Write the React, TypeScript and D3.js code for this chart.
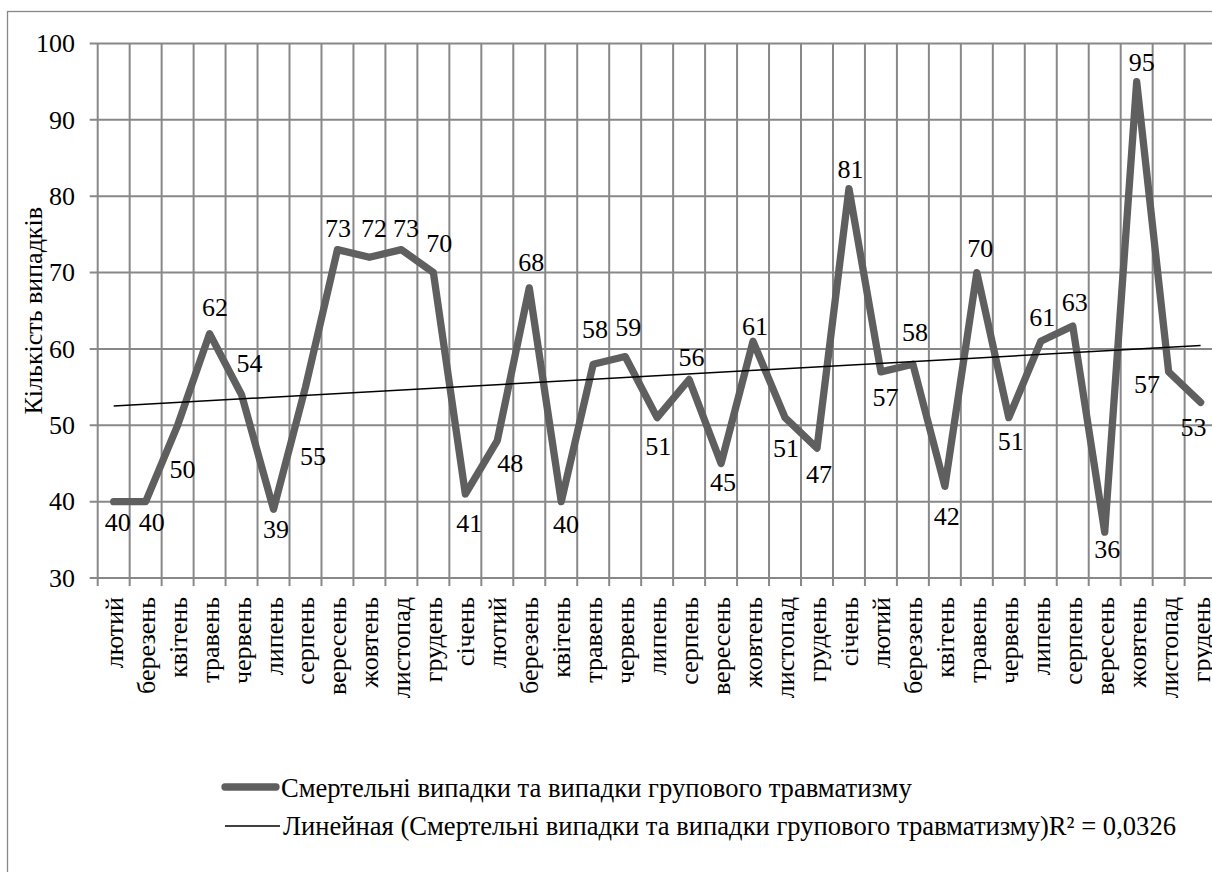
import React from "react";
import * as d3 from "d3";

// Month names along the category axis (Feb of year 1 through Dec of year 3)
const months: string[] = [
  "лютий", "березень", "квітень", "травень", "червень", "липень", "серпень", "вересень", "жовтень", "листопад", "грудень",
  "січень", "лютий", "березень", "квітень", "травень", "червень", "липень", "серпень", "вересень", "жовтень", "листопад", "грудень",
  "січень", "лютий", "березень", "квітень", "травень", "червень", "липень", "серпень", "вересень", "жовтень", "листопад", "грудень",
];

// Fatal accidents and group injury cases per month
const cases: number[] = [
  40, 40, 50, 62, 54, 39, 55, 73, 72, 73, 70,
  41, 48, 68, 40, 58, 59, 51, 56, 45, 61, 51, 47,
  81, 57, 58, 42, 70, 51, 61, 63, 36, 95, 57, 53,
];

const yTicks: number[] = [30, 40, 50, 60, 70, 80, 90, 100];

const seriesName = "Смертельні випадки та випадки групового травматизму";
const trendName = "Линейная (Смертельні випадки та випадки групового травматизму)";
const rSquaredText = "R² = 0,0326";
const yTitle = "Кількість випадків";

// Per-label nudges (px) of each value label relative to its point
const labelNudge: [number, number][] = [
  [4, 21], [6, 21], [5, 43.5], [5.5, -26], [8, -32], [2.5, 20], [7.5, 69], [0.5, -21.7], [4.5, -29], [4.5, -22], [6, -29.6],
  [3.8, 29], [13, 23], [2, -26], [4.7, 23], [1.7, -35], [3, -29], [1, 29], [2.5, -22], [2, 19], [2, -15.5], [1, 31], [2, 26],
  [1.5, -19.6], [4.5, 25.7], [2, -31.7], [2, 29.6], [3.4, -24.6], [2, 23.4], [1.5, -23.8], [2, -23.5], [2.5, 17], [5, -20], [-21.7, 12], [-7, 25],
];

const W = 1212;
const H = 872;
const plot = { left: 97.7, right: 1216.6, top: 43.5, bottom: 578 };
const FONT = '"Liberation Serif", "Times New Roman", serif';
const GRID = "#888888";
const LINE = "#5f5f5f";
const textStyle = { fontFamily: FONT, fontSize: 26 };
const legendStyle = { fontFamily: FONT, fontSize: 26.6 };

export default function App() {
  const idx = d3.range(cases.length);
  const x = d3.scaleBand<number>().domain(idx).range([plot.left, plot.right]).padding(0);
  const bw = x.bandwidth();
  const cx = (i: number) => (x(i) as number) + bw / 2;
  const y = d3.scaleLinear().domain([30, 100]).range([plot.bottom, plot.top]);

  // least-squares linear trend over category positions 1..n
  const n = cases.length;
  const xs = idx.map((i) => i + 1);
  const mx = d3.mean(xs) as number;
  const my = d3.mean(cases) as number;
  let sxy = 0;
  let sxx = 0;
  xs.forEach((xv, i) => {
    sxy += (xv - mx) * (cases[i] - my);
    sxx += (xv - mx) * (xv - mx);
  });
  const slope = sxy / sxx;
  const intercept = my - slope * mx;
  const trendAt = (k: number) => intercept + slope * k;

  const line = d3
    .line<number>()
    .x((_, i) => cx(i))
    .y((d) => y(d));

  const trendPath = d3
    .line<number>()
    .x((k) => cx(k - 1))
    .y((k) => y(trendAt(k)))([1, n]) as string;

  const boundaries = d3.range(n + 1).map((i) => plot.left + i * bw);

  return (
    <div style={{ position: "absolute", left: 0, top: 0 }}>
      <svg width={W} height={H} style={{ display: "block", background: "#fff" }}>
        {/* chart frame */}
        <rect x={7.5} y={11.5} width={1216} height={880} fill="none" stroke={GRID} strokeWidth={1.3} />

        {/* horizontal grid with left ticks */}
        {yTicks.map((t) => (
          <line key={"h" + t} x1={plot.left - 8} x2={plot.right} y1={y(t)} y2={y(t)} stroke={GRID} strokeWidth={2} />
        ))}
        {/* vertical grid at category boundaries, extending as ticks below the axis */}
        {boundaries.map((bx, i) => (
          <line key={"v" + i} x1={bx} x2={bx} y1={plot.top} y2={plot.bottom + 8} stroke={GRID} strokeWidth={2} />
        ))}

        {/* y tick labels */}
        {yTicks.map((t) => (
          <text key={"yl" + t} x={75} y={y(t)} dy="0.34em" textAnchor="end" style={textStyle} fill="#000">
            {t}
          </text>
        ))}

        {/* y axis title */}
        <text transform={`translate(41.5, ${(plot.top + plot.bottom) / 2}) rotate(-90)`} textAnchor="middle" style={textStyle} fill="#000">
          {yTitle}
        </text>

        {/* category labels */}
        {months.map((m, i) => (
          <text
            key={"xl" + i}
            transform={`translate(${cx(i) + 9}, 597) rotate(-90)`}
            textAnchor="end"
            style={textStyle}
            fill="#000"
          >
            {m}
          </text>
        ))}

        {/* series line */}
        <path d={line(cases) as string} fill="none" stroke={LINE} strokeWidth={7.3} strokeLinejoin="round" strokeLinecap="round" />

        {/* linear trend */}
        <path d={trendPath} fill="none" stroke="#000" strokeWidth={1.6} />

        {/* value labels */}
        {cases.map((v, i) => (
          <text
            key={"dl" + i}
            x={cx(i) + labelNudge[i][0]}
            y={y(v) + labelNudge[i][1]}
            dy="0.34em"
            textAnchor="middle"
            style={textStyle}
            fill="#000"
          >
            {v}
          </text>
        ))}

        {/* legend */}
        <line x1={225} x2={276} y1={787} y2={787} stroke={LINE} strokeWidth={7.3} strokeLinecap="round" />
        <text x={281} y={797} style={legendStyle} fill="#000">
          {seriesName}
        </text>
        <line x1={225} x2={280} y1={826} y2={826} stroke="#000" strokeWidth={1.6} />
        <text x={283} y={835} style={legendStyle} fill="#000">
          {trendName}
          {rSquaredText}
        </text>
      </svg>
    </div>
  );
}
